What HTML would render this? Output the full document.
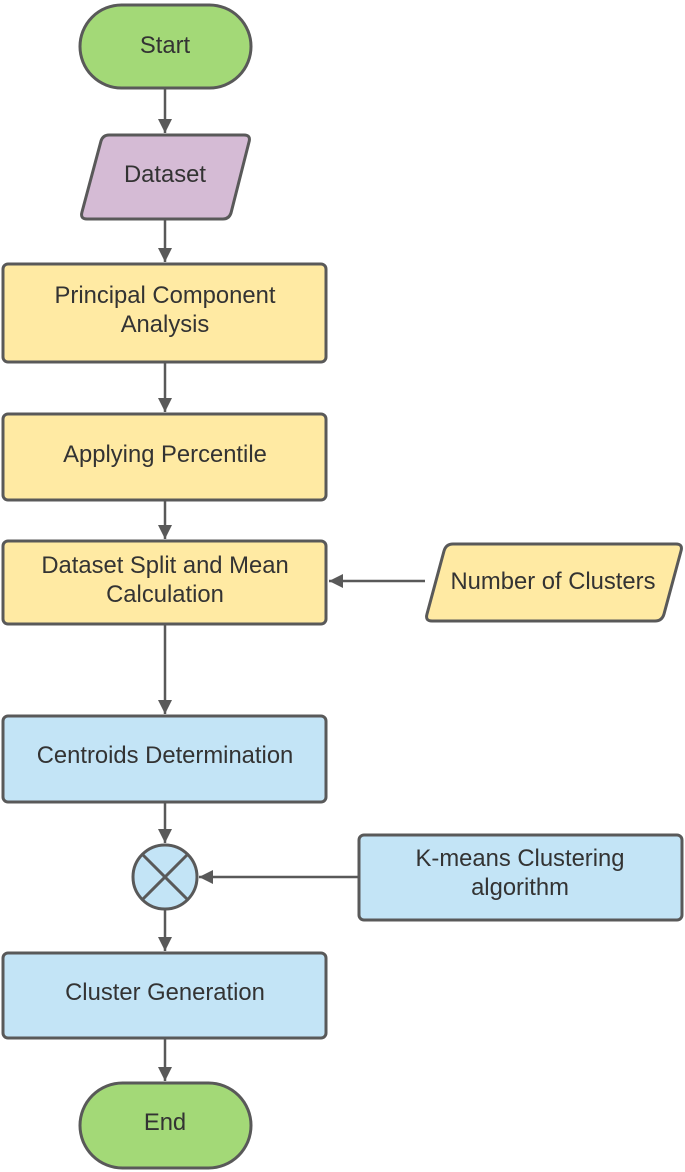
<!DOCTYPE html>
<html><head><meta charset="utf-8"><style>html,body{margin:0;padding:0;background:#fff}svg{display:block}text{font-family:"Liberation Sans",sans-serif;font-size:23.8px;fill:#333;text-anchor:middle}</style></head><body>
<svg width="685" height="1172" viewBox="0 0 685 1172" xmlns="http://www.w3.org/2000/svg">
<defs>
<marker id="b" viewBox="0 0 14 14" markerWidth="14" markerHeight="14" refX="14" refY="7" orient="auto" markerUnits="userSpaceOnUse"><path d="M0,0 L14,7 L0,14z" fill="#595959"/></marker></defs>
<g stroke="#595959" stroke-width="3" stroke-linejoin="round">
<rect x="80" y="5" width="171" height="83" rx="41.5" fill="#a3d977"/>
<path d="M109,135 L244,135 Q251,135 249,142 L231,213 Q229,219 223,219 L87,219 Q80,219 82,212 L101,141 Q103,135 109,135Z" fill="#d5bbd5"/>
<rect x="3" y="264" width="323" height="98" rx="5" fill="#ffeaa3"/>
<rect x="3" y="414" width="323" height="86" rx="5" fill="#ffeaa3"/>
<rect x="3" y="541" width="323" height="83" rx="5" fill="#ffeaa3"/>
<path d="M453,544 L676,544 Q683,544 681,551 L664,614 Q662,621 655,621 L432,621 Q425,621 427,614 L444,551 Q446,544 453,544Z" fill="#ffeaa3"/>
<rect x="3" y="716" width="323" height="86" rx="5" fill="#c3e4f6"/>
<circle cx="165" cy="877" r="32" fill="#c3e4f6"/>
<line x1="142" y1="854" x2="188" y2="900"/><line x1="188" y1="854" x2="142" y2="900"/>
<rect x="359" y="835" width="323" height="85" rx="5" fill="#c3e4f6"/>
<rect x="3" y="953" width="323" height="85" rx="5" fill="#c3e4f6"/>
<rect x="80" y="1083" width="171" height="85" rx="42.5" fill="#a3d977"/>
<g fill="none" stroke-width="2.5">
<line x1="165" y1="89" x2="165" y2="133" marker-end="url(#b)"/>
<line x1="165" y1="220" x2="165" y2="262" marker-end="url(#b)"/>
<line x1="165" y1="363" x2="165" y2="412" marker-end="url(#b)"/>
<line x1="165" y1="501" x2="165" y2="539" marker-end="url(#b)"/>
<line x1="165" y1="625" x2="165" y2="714" marker-end="url(#b)"/>
<line x1="165" y1="803" x2="165" y2="843" marker-end="url(#b)"/>
<line x1="165" y1="910" x2="165" y2="951" marker-end="url(#b)"/>
<line x1="165" y1="1039" x2="165" y2="1081" marker-end="url(#b)"/>
<line x1="425" y1="581" x2="329" y2="581" marker-end="url(#b)"/>
<line x1="358" y1="877" x2="199" y2="877" marker-end="url(#b)"/>
</g></g>
<text x="165" y="53">Start</text>
<text x="165" y="182">Dataset</text>
<text x="165" y="303">Principal Component</text>
<text x="165" y="332">Analysis</text>
<text x="165" y="462">Applying Percentile</text>
<text x="165" y="573">Dataset Split and Mean</text>
<text x="165" y="602">Calculation</text>
<text x="553" y="589">Number of Clusters</text>
<text x="165" y="763">Centroids Determination</text>
<text x="520" y="866">K-means Clustering</text>
<text x="520" y="895">algorithm</text>
<text x="165" y="1000">Cluster Generation</text>
<text x="165" y="1130">End</text>
</svg>
</body></html>
